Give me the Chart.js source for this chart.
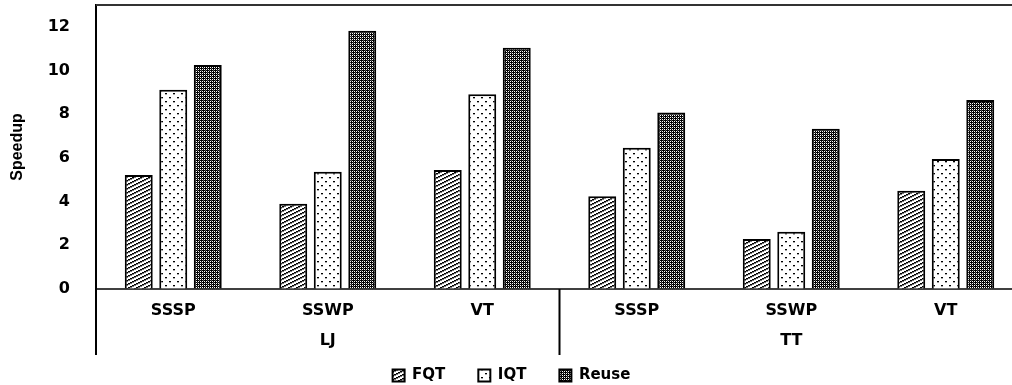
<!DOCTYPE html>
<html>
<head>
<meta charset="utf-8">
<title>Speedup</title>
<script src="https://cdn.jsdelivr.net/npm/chart.js"></script>
<style>
    html, body { margin: 0; padding: 0; background: #fff; overflow: hidden; }
    #wrap { width: 1030px; height: 393px; }
</style>
</head>
<body>
<div id="wrap"><canvas id="speedupChart"></canvas></div>
<script>
const categories = ["SSSP", "SSWP", "VT", "SSSP", "SSWP", "VT"];
const groups = ["LJ", "TT"];
const groupSizes = [3, 3];

const fqt = [5.22, 3.9, 5.45, 4.24, 2.29, 4.5];
const iqt = [9.12, 5.37, 8.92, 6.46, 2.62, 5.95];
const reuse = [10.25, 11.82, 11.04, 8.08, 7.33, 8.65];

const yTicks = [0, 2, 4, 6, 8, 10, 12];

// small tiles used as fill patterns
function makePattern(w, h, paint) {
    const c = document.createElement("canvas");
    c.width = w;
    c.height = h;
    const g = c.getContext("2d");
    g.fillStyle = "#fff";
    g.fillRect(0, 0, w, h);
    paint(g);
    return document.createElement("canvas").getContext("2d").createPattern(c, "repeat");
}

const hatch = makePattern(8, 4, g => {
    for (let x = 0; x < 8; x++) {
        const y = 3 - Math.floor(x / 2);
        g.fillStyle = "#000";
        g.fillRect(x, y, 1, 1);
        g.fillStyle = "#777";
        g.fillRect(x, (y + 1) % 4, 1, 1);
    }
});

const dots = makePattern(8, 8, g => {
    g.fillStyle = "#000";
    g.fillRect(1, 1, 2, 1);
    g.fillRect(5, 5, 2, 1);
    g.fillStyle = "#aaa";
    g.fillRect(1, 2, 2, 1);
    g.fillRect(5, 6, 2, 1);
});

const checker = makePattern(4, 4, g => {
    g.fillStyle = "#000";
    for (let y = 0; y < 4; y++) {
        for (let x = 0; x < 4; x++) {
            if ((x + y) % 2 === 0) g.fillRect(x, y, 1, 1);
        }
    }
    g.fillRect(1, 0, 1, 1);
    g.fillRect(3, 2, 1, 1);
    g.fillStyle = "#555";
    g.fillRect(3, 0, 1, 1);
    g.fillRect(1, 2, 1, 1);
});

const tickFont = { family: "'DejaVu Sans'", size: 16, weight: "bold" };

const groupLines = {
    id: "groupLines",
    afterDraw(chart) {
        const { ctx, chartArea, scales: { x } } = chart;
        const bottom = chartArea.bottom + 66;
        ctx.save();
        ctx.lineWidth = 2;
        ctx.strokeStyle = "#333";
        ctx.beginPath();
        ctx.moveTo(chartArea.left, chartArea.top);
        ctx.lineTo(chartArea.right, chartArea.top);
        ctx.stroke();

        ctx.strokeStyle = "#000";
        ctx.beginPath();
        ctx.moveTo(chartArea.left, chartArea.bottom);
        ctx.lineTo(chartArea.left, bottom);

        ctx.font = "bold 16px 'DejaVu Sans'";
        ctx.fillStyle = "#000";
        ctx.textAlign = "center";
        ctx.textBaseline = "middle";

        let start = 0;
        groupSizes.forEach((n, i) => {
            const end = start + n - 1;
            const cx = (x.getPixelForValue(start) + x.getPixelForValue(end)) / 2;
            ctx.fillText(groups[i], cx, chartArea.bottom + 52);
            if (i < groupSizes.length - 1) {
                const sep = (x.getPixelForValue(end) + x.getPixelForValue(end + 1)) / 2;
                ctx.moveTo(sep, chartArea.bottom);
                ctx.lineTo(sep, bottom);
            }
            start += n;
        });
        ctx.stroke();
        ctx.restore();
    }
};

new Chart(document.getElementById("speedupChart"), {
    type: "bar",
    data: {
        labels: categories,
        datasets: [
            { label: "FQT", data: fqt, backgroundColor: hatch },
            { label: "IQT", data: iqt, backgroundColor: dots },
            { label: "Reuse", data: reuse, backgroundColor: checker }
        ].map(d => Object.assign(d, {
            borderColor: "#000",
            borderWidth: 2,
            categoryPercentage: 0.67,
            barPercentage: 0.81
        }))
    },
    options: {
        responsive: true,
        maintainAspectRatio: false,
        animation: false,
        layout: { padding: { top: 5, right: 7, left: 0, bottom: 0 } },
        plugins: {
            tooltip: { enabled: false },
            legend: {
                position: "bottom",
                labels: {
                    color: "#000",
                    font: { family: "'DejaVu Sans'", size: 15, weight: "bold" },
                    boxWidth: 12,
                    boxHeight: 12,
                    padding: 33
                }
            }
        },
        scales: {
            x: {
                grid: { display: false, drawTicks: false },
                border: { display: true, color: "#404040", width: 2 },
                ticks: { color: "#000", font: tickFont, padding: 12, maxRotation: 0 },
                afterFit: s => { s.height = 46; }
            },
            y: {
                min: 0,
                max: 13,
                grid: {
                    display: true,
                    drawOnChartArea: false,
                    drawTicks: true,
                    tickLength: 22,
                    tickColor: "rgba(0,0,0,0)"
                },
                border: { display: true, color: "#000", width: 2 },
                ticks: { color: "#000", font: tickFont, padding: 4 },
                afterBuildTicks: s => { s.ticks = yTicks.map(v => ({ value: v })); },
                title: {
                    display: true,
                    text: "Speedup",
                    color: "#000",
                    font: { family: "'Liberation Sans Narrow', 'Liberation Sans'", size: 16, weight: "bold" },
                    padding: 8
                },
                afterFit: s => {
                    s.width = 96;
                    s.paddingTop = 0;
                    s.paddingBottom = 0;
                }
            }
        }
    },
    plugins: [groupLines]
});
</script>
</body>
</html>
